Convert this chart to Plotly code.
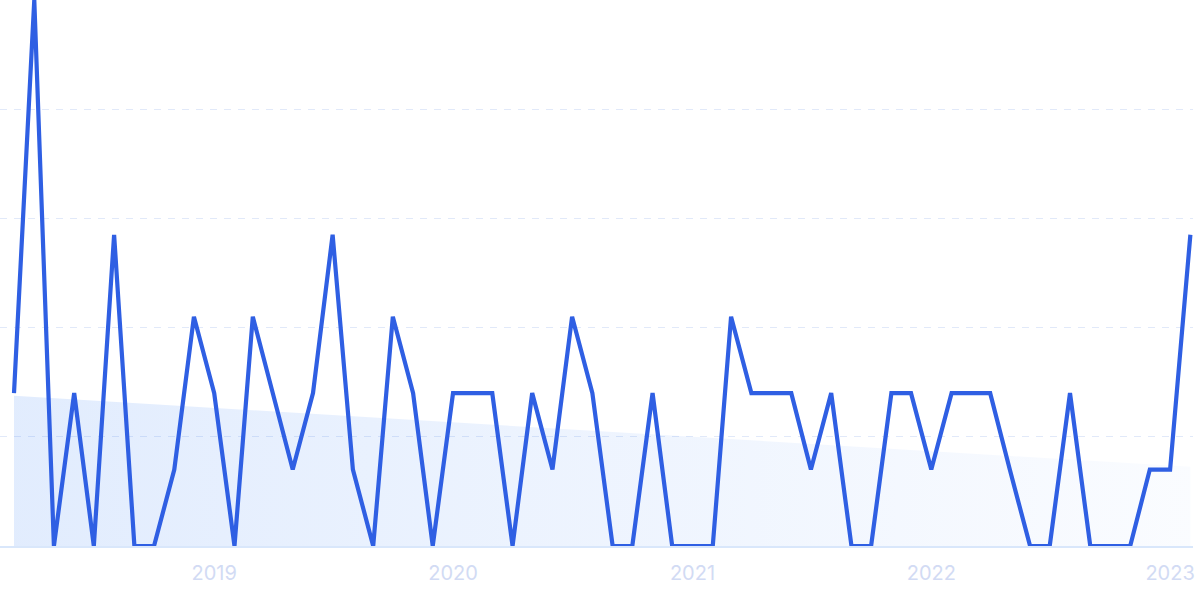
import pandas as pd
import plotly.graph_objects as go

# Monthly series, Mar 2018 - Feb 2023 (normalised, peak = 100)
dates = pd.date_range("2018-03-01", "2023-02-01", freq="MS")
values = [28, 100, 0, 28, 0, 57, 0, 0, 14, 42,
          28, 0, 42, 28, 14, 28, 57, 14, 0, 42,
          28, 0, 28, 28, 28, 0, 28, 14, 42, 28,
          0, 0, 28, 0, 0, 0, 42, 28, 28, 28,
          14, 28, 0, 0, 28, 28, 14, 28, 28, 28,
          14, 0, 0, 28, 0, 0, 0, 14, 14, 57]
trend_dates = [dates[0], dates[-1]]
trend_values = [27.5, 14.5]
year_ticks = ["2019-01-01", "2020-01-01", "2021-01-01", "2022-01-01", "2023-01-01"]
year_labels = ["2019", "2020", "2021", "2022", "2023"]
y_grid = [0, 20, 40, 60, 80, 100]

fig = go.Figure()
fig.add_trace(go.Scatter(
    x=trend_dates, y=trend_values, mode="lines",
    line=dict(width=0), fill="tozeroy",
    fillgradient=dict(type="horizontal",
                      colorscale=[[0, "rgba(59,130,246,0.15)"], [1, "rgba(59,130,246,0.025)"]]),
    hoverinfo="skip", showlegend=False))
fig.add_trace(go.Scatter(
    x=dates, y=values, mode="lines",
    line=dict(color="#2f5fe3", width=4.2, shape="linear"),
    showlegend=False))

day = pd.Timedelta(days=1)
fig.update_layout(
    width=1200, height=599,
    margin=dict(l=0, r=7, t=0, b=53),
    paper_bgcolor="white", plot_bgcolor="white",
    font=dict(family="Inter, sans-serif"),
    xaxis=dict(
        range=[dates[0] - 21.4 * day, dates[-1] + 4 * day],
        tickvals=year_ticks, ticktext=year_labels,
        ticklabelstandoff=8, ticklabeloverflow="allow",
        tickfont=dict(size=20, color="#d2dbf4", family="Inter, sans-serif"),
        showgrid=False, zeroline=False, ticks="",
        showline=True, linecolor="#d9e7fb", linewidth=2,
    ),
    yaxis=dict(
        range=[0, 100], tickvals=y_grid, showticklabels=False,
        showgrid=True, gridcolor="#e1e9f9", griddash="7px,7px", gridwidth=1.2,
        zeroline=False, ticks="",
    ),
)
fig.write_html("out.html", config={"displayModeBar": False},
               post_script="document.body.style.margin='0';document.body.style.overflow='hidden';")
